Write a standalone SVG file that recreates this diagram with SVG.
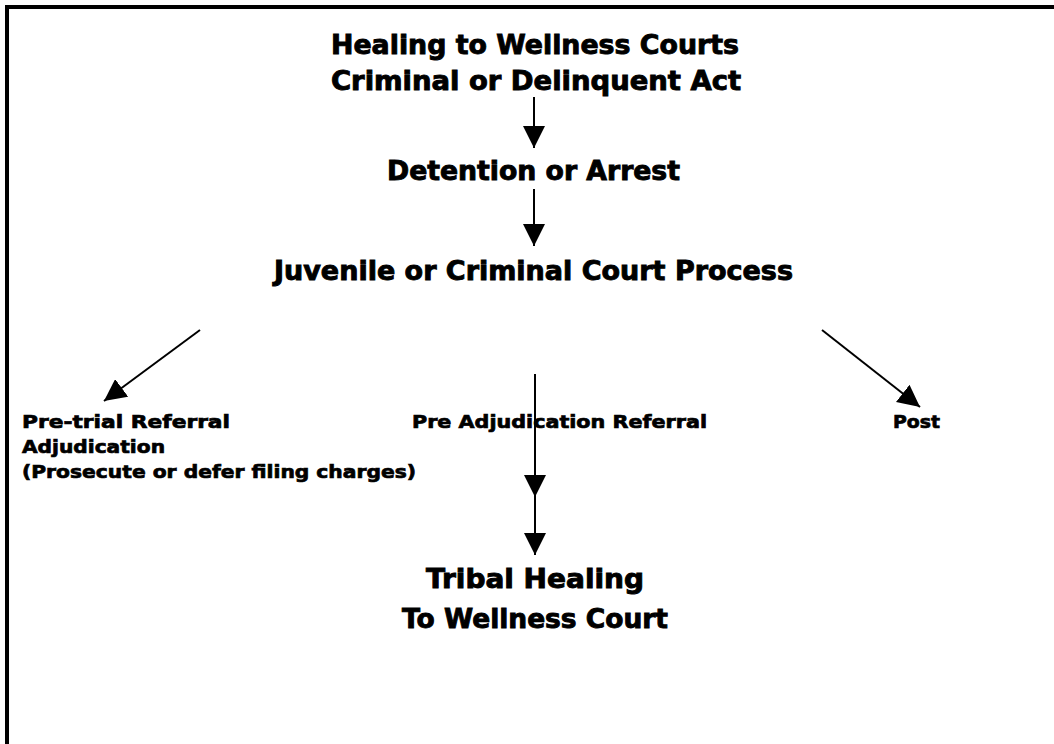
<svg xmlns="http://www.w3.org/2000/svg" width="1054" height="744" viewBox="0 0 1054 744">
  <style>
    text { font-family: "DejaVu Sans", "Liberation Sans", sans-serif; font-weight: bold; fill: #000; stroke: #000; stroke-width: 0.9; }
    .big { font-size: 26px; }
    .small { font-size: 18px; stroke-width: 0.7; }
    .conn line { stroke: #000; stroke-width: 2; fill: none; }
  </style>
  <defs>
    <marker id="ah" markerUnits="userSpaceOnUse" markerWidth="22" markerHeight="22" viewBox="0 0 22 22" refX="22" refY="11" orient="auto">
      <path d="M0,0 L22,11 L0,22 Z" fill="#000"/>
    </marker>
  </defs>
  <rect x="7" y="7" width="1100" height="800" fill="#fff" stroke="#000" stroke-width="4"/>

  <g id="n-title">
    <text class="big" x="535" y="54" text-anchor="middle" textLength="408" lengthAdjust="spacingAndGlyphs">Healing to Wellness Courts</text>
    <text class="big" x="536" y="90" text-anchor="middle" textLength="410" lengthAdjust="spacingAndGlyphs">Criminal or Delinquent Act</text>
  </g>
  <g id="n-detention">
    <text class="big" x="533.5" y="180" text-anchor="middle" textLength="293" lengthAdjust="spacingAndGlyphs">Detention or Arrest</text>
  </g>
  <g id="n-court">
    <text class="big" x="533.5" y="280" text-anchor="middle" textLength="519" lengthAdjust="spacingAndGlyphs">Juvenile or Criminal Court Process</text>
  </g>
  <g id="n-pretrial">
    <text class="small" x="22" y="428" textLength="208" lengthAdjust="spacingAndGlyphs">Pre-trial Referral</text>
    <text class="small" x="22" y="453" textLength="143" lengthAdjust="spacingAndGlyphs">Adjudication</text>
    <text class="small" x="22" y="478" textLength="394" lengthAdjust="spacingAndGlyphs">(Prosecute or defer filing charges)</text>
  </g>
  <g id="n-preadj">
    <text class="small" x="412" y="428" textLength="295" lengthAdjust="spacingAndGlyphs">Pre Adjudication Referral</text>
  </g>
  <g id="n-post">
    <text class="small" x="893" y="428" textLength="47" lengthAdjust="spacingAndGlyphs">Post</text>
  </g>
  <g id="n-tribal">
    <text class="big" x="535" y="588" text-anchor="middle" textLength="218" lengthAdjust="spacingAndGlyphs">Tribal Healing</text>
    <text class="big" x="535" y="628" text-anchor="middle" textLength="266" lengthAdjust="spacingAndGlyphs">To Wellness Court</text>
  </g>

  <g id="connectors" class="conn">
    <line x1="534" y1="97" x2="534" y2="148" marker-end="url(#ah)"/>
    <line x1="534" y1="189" x2="534" y2="246" marker-end="url(#ah)"/>
    <line x1="200" y1="330" x2="104" y2="401" marker-end="url(#ah)"/>
    <line x1="822" y1="330" x2="920" y2="407" marker-end="url(#ah)"/>
    <line x1="535" y1="374" x2="535" y2="497" marker-end="url(#ah)"/>
    <line x1="535" y1="497" x2="535" y2="555" marker-end="url(#ah)"/>
  </g>
</svg>
